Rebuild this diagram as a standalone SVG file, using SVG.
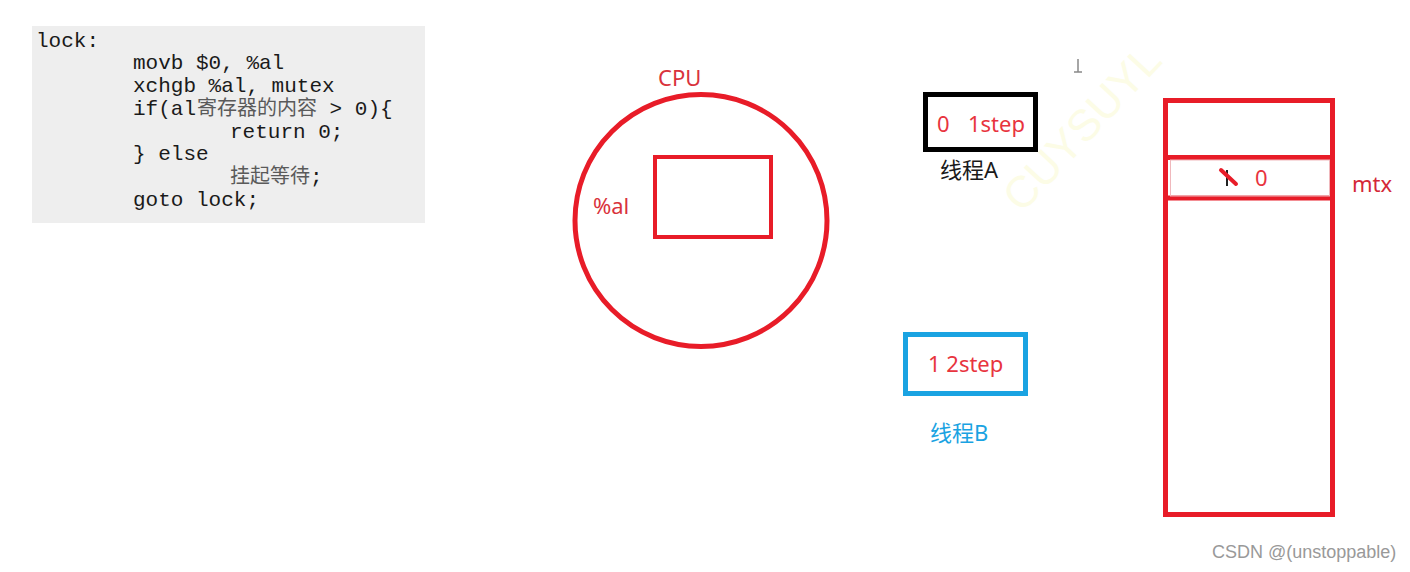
<svg xmlns="http://www.w3.org/2000/svg" width="1410" height="572" viewBox="0 0 1410 572">
<style>
.code{font-family:"Liberation Mono","Courier New",monospace;font-size:21px;fill:#1a1a1a}
.cjk{font-family:"Noto Sans CJK SC","Noto Sans",sans-serif;font-size:20px;fill:#5a5a5a}
.lbl{font-family:"Noto Sans","Noto Sans CJK SC",sans-serif;font-size:22px}
.red{fill:#e8343e}
.box{fill:none;stroke-width:5}
</style>
<rect width="1410" height="572" fill="#ffffff"/>
<g id="code">
<rect x="32" y="26" width="393" height="197" fill="#eeeeee"/>
<text class="code" x="36" y="47">lock:</text>
<text class="code" x="133" y="69">movb $0, %al</text>
<text class="code" x="133" y="92">xchgb %al, mutex</text>
<text class="code" x="133" y="115">if(al<tspan class="cjk" dx="1">寄存器的内容</tspan> &gt; 0){</text>
<text class="code" x="230" y="138">return 0;</text>
<text class="code" x="133" y="160">} else</text>
<text class="code" x="230" y="183"><tspan class="cjk" font-size="21">挂起等待</tspan>;</text>
<text class="code" x="133" y="206">goto lock;</text>
</g>
<g id="watermark">
<text x="1022" y="214" transform="rotate(-47 1022 214)" font-family="Liberation Sans,sans-serif" font-size="44" fill="#fcfce6">CUYSUYL</text>
</g>
<g id="cpu">
<ellipse cx="701" cy="220.5" rx="126" ry="126" fill="none" stroke="#e81c28" stroke-width="5"/>
<text class="lbl" x="658" y="86" fill="#d9323c">CPU</text>
<rect x="655" y="157" width="116" height="80" fill="none" stroke="#e81c28" stroke-width="4"/>
<text class="lbl" x="593" y="214" fill="#d9323c">%al</text>
</g>
<g id="threadA">
<rect x="925.5" y="94.5" width="110" height="55" class="box" stroke="#000"/>
<text class="lbl red" x="937" y="132">0</text>
<text class="lbl red" x="968" y="132">1step</text>
<text class="lbl" x="940" y="178" fill="#1a1a1a">线程A</text>
</g>
<g id="threadB">
<rect x="905.5" y="334.5" width="120" height="59" class="box" stroke="#1aa3e2"/>
<text class="lbl red" x="928" y="372">1 2step</text>
<text class="lbl" x="930" y="441" fill="#1aa3e2">线程B</text>
</g>
<g id="cursor" stroke="#888" stroke-width="1.5">
<line x1="1078" y1="59" x2="1078" y2="72"/>
<line x1="1074" y1="72" x2="1082" y2="72"/>
</g>
<g id="mtx">
<rect x="1165.5" y="100.5" width="167" height="414" class="box" stroke="#e81c28"/>
<line x1="1165.5" y1="157.5" x2="1332.5" y2="157.5" stroke="#e81c28" stroke-width="5"/>
<line x1="1165.5" y1="198" x2="1332.5" y2="198" stroke="#e81c28" stroke-width="5"/>
<rect x="1170.5" y="160" width="159" height="36" fill="none" stroke="#f0b8bc" stroke-width="1"/>
<line x1="1227" y1="170" x2="1227" y2="186" stroke="#222" stroke-width="2"/>
<line x1="1221" y1="170" x2="1236" y2="184" stroke="#e81c28" stroke-width="4" stroke-linecap="round"/>
<text class="lbl red" x="1255" y="186">0</text>
<text class="lbl" x="1352" y="192" fill="#d42838">mtx</text>
</g>
<g id="connectors"></g>
<text x="1212" y="558" font-family="Liberation Sans,Arial,sans-serif" font-size="18" fill="#999">CSDN @(unstoppable)</text>
</svg>
